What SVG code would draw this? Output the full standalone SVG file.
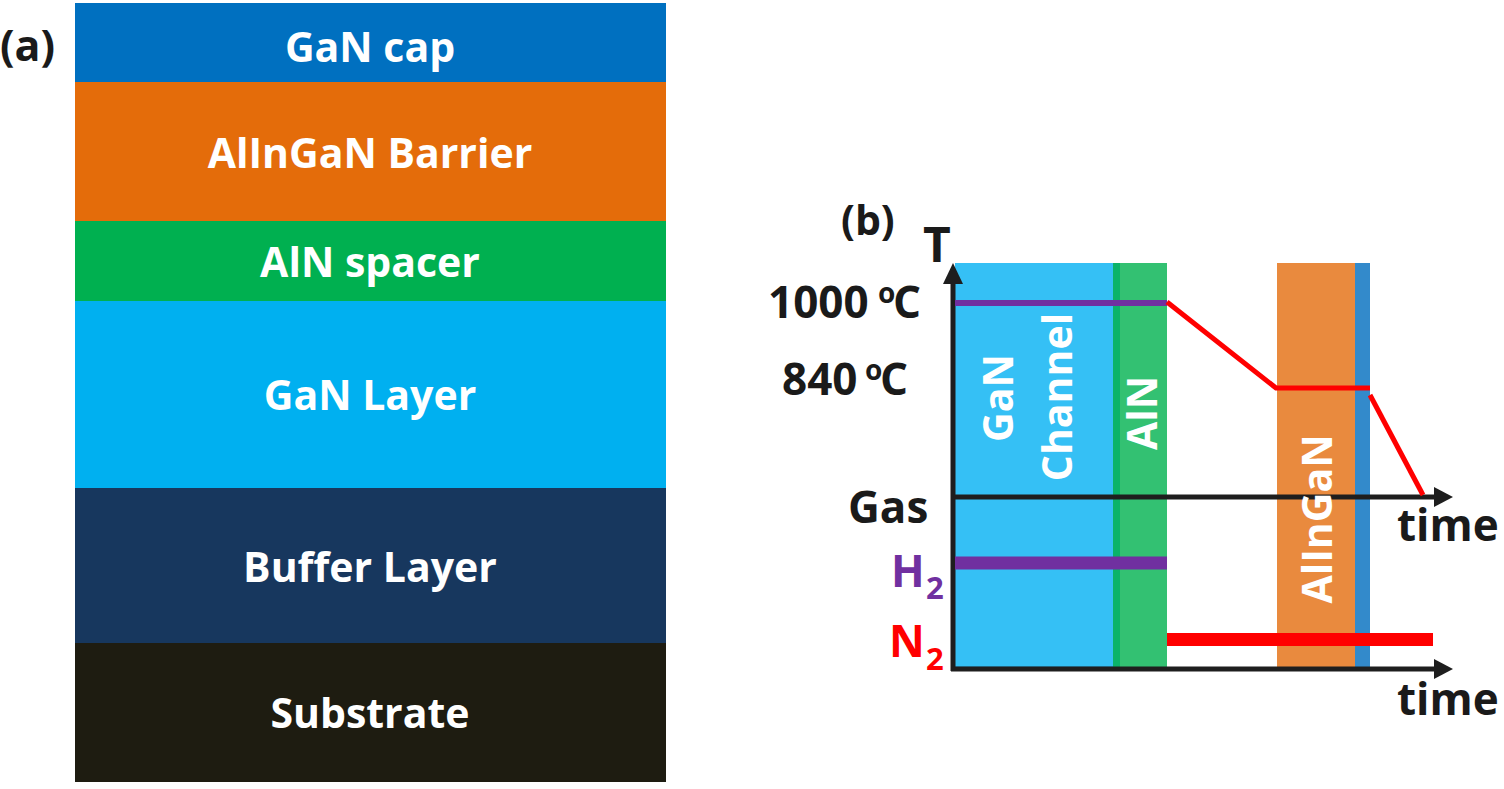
<svg xmlns="http://www.w3.org/2000/svg" width="1504" height="789" viewBox="0 0 1504 789">
<style>
text{font-family:"Open Sans","Liberation Sans",sans-serif;font-weight:700}
.w{fill:#ffffff;font-size:41px}
.k{fill:#1a1a1a}
.ax{stroke:#1e1e1e;stroke-width:5;fill:none}
.ah{fill:#1e1e1e}
</style>
<rect x="0" y="0" width="1504" height="789" fill="#ffffff"/>
<!-- panel a -->
<text class="k" x="0" y="61" font-size="43">(a)</text>
<g id="gan-cap"><rect x="75" y="3" width="591" height="79" fill="#0070C0"/><text class="w" x="370" y="62" text-anchor="middle">GaN cap</text></g>
<g id="alingan-barrier"><rect x="75" y="82" width="591" height="139" fill="#E46C0A"/><text class="w" x="370" y="168" text-anchor="middle">AlInGaN Barrier</text></g>
<g id="aln-spacer"><rect x="75" y="221" width="591" height="80" fill="#00B050"/><text class="w" x="370" y="277" text-anchor="middle">AlN spacer</text></g>
<g id="gan-layer"><rect x="75" y="301" width="591" height="187" fill="#00B0F0"/><text class="w" x="370" y="410" text-anchor="middle">GaN Layer</text></g>
<g id="buffer-layer"><rect x="75" y="488" width="591" height="155" fill="#17375E"/><text class="w" x="370" y="582" text-anchor="middle">Buffer Layer</text></g>
<g id="substrate"><rect x="75" y="643" width="591" height="139" fill="#1E1C11"/><text class="w" x="370" y="728" text-anchor="middle">Substrate</text></g>
<!-- panel b -->
<text class="k" x="841" y="235" font-size="41">(b)</text>
<g id="gan-channel"><rect x="955" y="263" width="158" height="405" fill="#35C0F5"/><line x1="955" y1="667" x2="1113" y2="667" stroke="#2AA6D8" stroke-width="2"/></g>
<g id="aln"><rect x="1113" y="263" width="54" height="405" fill="#33C172"/><rect x="1113" y="263" width="7" height="405" fill="#0BB36A"/></g>
<g id="alingan"><rect x="1277" y="263" width="78" height="404" fill="#E98A3E"/><rect x="1355" y="263" width="15" height="404" fill="#338ACB"/></g>
<g id="connectors">
<line class="ax" x1="953" y1="671" x2="953" y2="280"/>
<polygon class="ah" points="953,263 943,284 963,284"/>
<line class="ax" x1="951" y1="497" x2="1437" y2="497"/>
<polygon class="ah" points="1453,497 1434,487 1434,507"/>
<line class="ax" x1="951" y1="669" x2="1437" y2="669"/>
<polygon class="ah" points="1453,669 1434,659 1434,679"/>
<line x1="955" y1="303" x2="1167" y2="303" stroke="#7030A0" stroke-width="6"/>
<polyline points="1167,302 1276,388 1370,388" fill="none" stroke="#FF0000" stroke-width="5"/>
<line x1="1370" y1="395" x2="1423" y2="495" stroke="#FF0000" stroke-width="5"/>
<line x1="955" y1="563" x2="1167" y2="563" stroke="#7030A0" stroke-width="13"/>
<line x1="1167" y1="639.5" x2="1433" y2="639.5" stroke="#FF0000" stroke-width="13"/>
</g>
<g id="labels">
<text class="w" transform="translate(1013,398) rotate(-90)" text-anchor="middle">GaN</text>
<text class="w" transform="translate(1072,397) rotate(-90)" text-anchor="middle">Channel</text>
<text class="w" transform="translate(1157,413) rotate(-90)" text-anchor="middle">AlN</text>
<text class="w" transform="translate(1332,519) rotate(-90)" text-anchor="middle">AlInGaN</text>
<text class="k" x="923" y="262" font-size="48">T</text>
<text class="k" x="768" y="318" font-size="44">1000<tspan x="878" y="303" font-size="28">o</tspan><tspan x="893" y="318">C</tspan></text>
<text class="k" x="782" y="395" font-size="44">840<tspan x="865" y="380" font-size="28">o</tspan><tspan x="880" y="395">C</tspan></text>
<text class="k" x="848" y="523" font-size="44">Gas</text>
<text x="891" y="587" font-size="44" fill="#7030A0">H<tspan x="926" y="599" font-size="31">2</tspan></text>
<text x="889" y="657" font-size="44" fill="#FF0000">N<tspan x="926" y="670" font-size="31">2</tspan></text>
<text class="k" x="1397" y="541" font-size="44">time</text>
<text class="k" x="1397" y="715" font-size="44">time</text>
</g>
</svg>
